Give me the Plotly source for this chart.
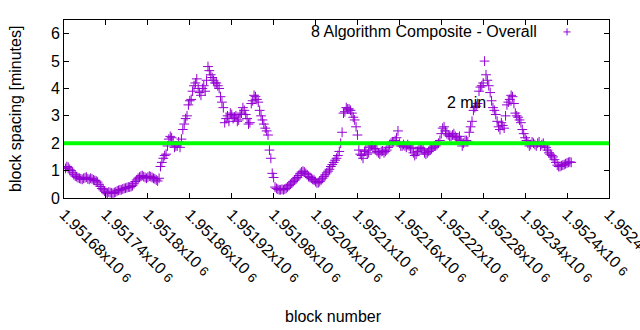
import plotly.graph_objects as go

# Block spacing (minutes), one sample every 4 blocks starting at block 1951682
first_block = 1951682
block_step = 4
spacing = [
    1.08, 1.12, 1.00, 0.85, 0.78, 0.72, 0.68, 0.74, 0.70, 0.72,
    0.66, 0.62, 0.50, 0.35, 0.25, 0.18, 0.20, 0.17, 0.22, 0.28,
    0.30, 0.35, 0.38, 0.40, 0.45, 0.60, 0.72, 0.80, 0.78, 0.72,
    0.80, 0.75, 0.70, 0.62, 1.15, 1.45, 1.60, 2.15, 2.20, 1.85,
    1.90, 1.85, 2.50, 2.90, 3.40, 3.60, 4.10, 4.35, 3.85, 4.00,
    3.90, 4.80, 4.50, 4.30, 4.20, 4.00, 3.50, 2.75, 3.00, 3.10,
    2.90, 3.00, 2.85, 3.10, 3.20, 2.90, 2.75, 3.55, 3.70, 3.50,
    3.00, 2.70, 2.45, 1.75, 0.90, 0.40, 0.32, 0.30, 0.30, 0.35,
    0.45, 0.55, 0.65, 0.75, 0.90, 0.98, 0.90, 0.78, 0.72, 0.65,
    0.55, 0.60, 0.72, 0.85, 0.98, 1.15, 1.30, 1.45, 1.70, 2.40,
    3.15, 3.25, 3.20, 2.95, 2.60, 1.75, 1.55, 1.70, 1.60, 1.85,
    1.90, 1.80, 1.65, 1.70, 1.65, 1.75, 1.95, 2.05, 2.10, 2.45,
    1.90, 1.95, 1.85, 1.90, 1.85, 1.55, 1.70, 1.85, 1.75, 1.60,
    1.70, 1.80, 1.90, 1.95, 2.10, 2.55, 2.45, 2.30, 2.25, 2.35,
    2.20, 2.25, 1.90, 2.10, 2.05, 2.60, 3.20, 3.35, 3.90, 4.10,
    5.00, 4.30, 3.85, 3.30, 3.05, 2.60, 2.75, 2.55, 3.40, 3.60,
    3.70, 3.10, 2.95, 2.75, 2.35, 2.10, 1.90, 2.05, 1.95, 2.00,
    1.90, 2.00, 1.85, 1.65, 1.55, 1.40, 1.20, 1.15, 1.20, 1.25,
    1.30, 1.30,
]
# Spacing at the blocks half-way between the samples above (block 1951684 onward)
spacing_mid = [
    1.15, 1.05, 0.92, 0.80, 0.74, 0.70, 0.72, 0.76, 0.68, 0.70,
    0.64, 0.58, 0.42, 0.30, 0.20, 0.22, 0.18, 0.20, 0.26, 0.30,
    0.33, 0.36, 0.40, 0.42, 0.52, 0.66, 0.76, 0.82, 0.75, 0.76,
    0.78, 0.72, 0.66, 0.72, 1.30, 1.55, 1.90, 2.25, 2.05, 1.90,
    2.05, 2.15, 2.70, 3.00, 3.55, 3.90, 4.20, 4.00, 3.75, 4.10,
    4.30, 4.65, 4.40, 4.20, 4.10, 3.70, 3.30, 2.90, 2.80, 3.05,
    2.95, 2.80, 3.05, 3.30, 3.05, 2.70, 3.45, 3.75, 3.60, 3.20,
    2.85, 2.55, 2.30, 1.45, 0.75, 0.35, 0.30, 0.32, 0.33, 0.40,
    0.50, 0.60, 0.70, 0.82, 0.95, 0.95, 0.85, 0.75, 0.68, 0.60,
    0.56, 0.66, 0.78, 0.92, 1.05, 1.22, 1.38, 1.55, 2.00, 3.10,
    3.30, 3.25, 3.10, 2.85, 2.30, 1.60, 1.45, 1.75, 1.65, 1.90,
    1.80, 1.70, 1.60, 1.72, 1.70, 1.85, 2.00, 2.05, 2.20, 2.00,
    1.90, 1.90, 1.95, 1.80, 1.65, 1.60, 1.80, 1.80, 1.65, 1.65,
    1.75, 1.85, 1.90, 2.00, 2.35, 2.60, 2.35, 2.25, 2.30, 2.25,
    2.15, 2.10, 2.00, 2.10, 2.40, 2.80, 3.30, 3.45, 4.05, 4.20,
    4.50, 4.10, 3.55, 3.20, 2.80, 2.50, 2.65, 3.00, 3.50, 3.75,
    3.45, 3.00, 2.85, 2.50, 2.20, 2.00, 1.95, 2.00, 1.90, 2.05,
    1.95, 1.90, 1.75, 1.60, 1.50, 1.30, 1.15, 1.18, 1.22, 1.28,
    1.32,
]
blocks = [first_block + block_step * i for i in range(len(spacing))]
blocks_mid = [first_block + block_step * i + 2 for i in range(len(spacing_mid))]

target_minutes = 2
x_tick_values = [1951680 + 60 * k for k in range(14)]
x_tick_mantissas = [
    "1.95168", "1.95174", "1.9518", "1.95186", "1.95192", "1.95198", "1.95204",
    "1.9521", "1.95216", "1.95222", "1.95228", "1.95234", "1.9524", "1.95246",
]
x_tick_labels = [m + 'x10 <span style="font-size:13px">6</span>' for m in x_tick_mantissas]
y_tick_values = [0, 1, 2, 3, 4, 5, 6]

PURPLE = "#9400d3"
FONT = dict(family="Liberation Sans, Arial, sans-serif", size=16, color="black")

all_blocks = []
all_spacing = []
for i, v in enumerate(spacing):
    all_blocks.append(blocks[i])
    all_spacing.append(v)
    if i < len(spacing_mid):
        all_blocks.append(blocks_mid[i])
        all_spacing.append(spacing_mid[i])

fig = go.Figure()
fig.add_trace(go.Scatter(
    x=all_blocks, y=all_spacing, mode="markers",
    marker=dict(symbol="cross-thin", size=7, line=dict(color=PURPLE, width=1)),
    showlegend=False,
))

# 2-minute target line
fig.add_shape(type="line", xref="paper", x0=0, x1=1, yref="y",
              y0=target_minutes, y1=target_minutes,
              line=dict(color="#00ff00", width=4), layer="above")

fig.add_annotation(x=1952225, y=3.5, text="2 min", showarrow=False,
                   xanchor="left", yanchor="middle", font=FONT)

# key
fig.add_annotation(xref="paper", yref="paper", x=0.8716, y=0.933,
                   text="8 Algorithm Composite - Overall", showarrow=False,
                   xanchor="right", yanchor="middle", font=FONT)
kx, ky = 0.923, 0.933
fig.add_shape(type="line", xref="paper", yref="paper",
              x0=kx - 3.5 / 545, x1=kx + 3.5 / 545, y0=ky, y1=ky,
              line=dict(color=PURPLE, width=1))
fig.add_shape(type="line", xref="paper", yref="paper",
              x0=kx, x1=kx, y0=ky - 3.5 / 178, y1=ky + 3.5 / 178,
              line=dict(color=PURPLE, width=1))

# axis titles
fig.add_annotation(xref="paper", yref="paper", x=-0.09, y=0.5,
                   text="block spacing [minutes]", textangle=-90,
                   showarrow=False, xanchor="center", yanchor="middle", font=FONT)
fig.add_annotation(xref="paper", yref="paper", x=0.495, y=-0.665,
                   text="block number", showarrow=False,
                   xanchor="center", yanchor="middle", font=FONT)

axis_common = dict(showline=True, linecolor="black", linewidth=1, mirror="ticks",
                   ticks="inside", ticklen=5, tickcolor="black", tickwidth=1,
                   showgrid=False, zeroline=False, tickfont=FONT, automargin=False)
fig.update_xaxes(range=[1951679.9, 1952460.1], tickmode="array",
                 tickvals=x_tick_values, ticktext=x_tick_labels,
                 tickangle=45, ticklabeloverflow="allow", **axis_common)
fig.update_yaxes(range=[0, 6.5], tickmode="array", tickvals=y_tick_values,
                 ticktext=[str(v) for v in y_tick_values], **axis_common)

fig.update_layout(width=640, height=330, margin=dict(l=64, r=31, t=20, b=132),
                  plot_bgcolor="white", paper_bgcolor="white", font=FONT)
fig.write_html("out.html")
